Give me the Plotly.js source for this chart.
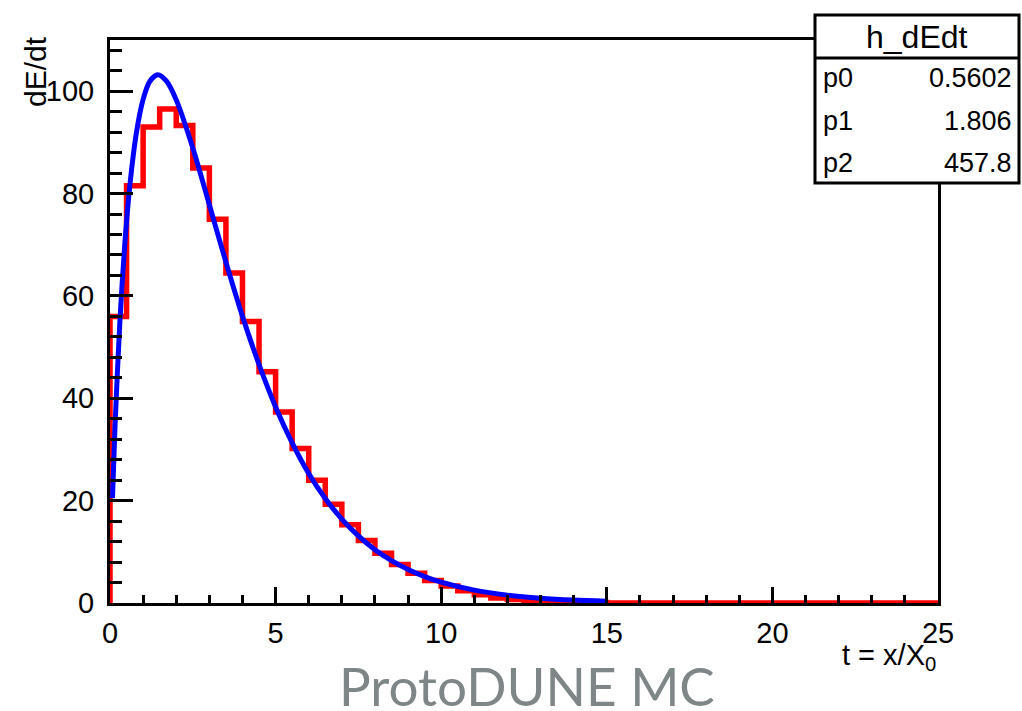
<!DOCTYPE html>
<html>
<head>
<meta charset="utf-8">
<script src="https://cdn.plot.ly/plotly-3.0.1.min.js"></script>
<style>
  html, body { margin: 0; padding: 0; background: #ffffff; }
  #chart { width: 1022px; height: 711px; }
</style>
</head>
<body>
<div id="chart"></div>
<script>
// Histogram h_dEdt: bin edges (t = x/X0) and contents
const binEdges = [0, 0.5, 1, 1.5, 2, 2.5, 3, 3.5, 4, 4.5, 5, 5.5, 6, 6.5, 7, 7.5, 8, 8.5, 9, 9.5,
  10, 10.5, 11, 11.5, 12, 12.5, 13, 13.5, 14, 14.5, 15, 15.5, 16, 16.5, 17, 17.5, 18, 18.5, 19, 19.5,
  20, 20.5, 21, 21.5, 22, 22.5, 23, 23.5, 24, 24.5, 25];
const binContents = [56, 81.5, 93, 96.5, 93.3, 85, 75, 64.5, 55, 45.2,
  37.3, 30.2, 24, 19.3, 15.3, 12.2, 9.7, 7.5, 5.8, 4.4,
  3.3, 2.4, 1.6, 1.0, 0.7, 0.45, 0.3, 0.2, 0.12, 0.08,
  0, 0, 0, 0, 0, 0, 0, 0, 0, 0,
  0, 0, 0, 0, 0, 0, 0, 0, 0, 0];

// Fit curve
const fitT = [0.075, 0.15, 0.3, 0.45, 0.6, 0.8, 1.0, 1.2, 1.44, 1.7, 2.0, 2.5, 3, 3.5, 4, 4.5, 5,
  5.5, 6, 6.5, 7, 7.5, 8, 8.5, 9, 9.5, 10, 11, 12, 13, 14, 15];
const fitVal = [20.5, 34.3, 55.2, 70.4, 81.6, 92.0, 98.4, 101.9, 103.2, 102.0, 98.3, 88.9, 77.8,
  66.6, 56.0, 46.6, 38.3, 31.3, 25.3, 20.4, 16.4, 13.1, 10.4, 8.27, 6.55, 5.17, 4.07, 2.51,
  1.54, 0.94, 0.57, 0.34];

// Stats box entries
const statNames = ["p0", "p1", "p2"];
const statValues = ["0.5602", "1.806", "457.8"];

const xTickVals = [0, 5, 10, 15, 20, 25];
const yTickVals = [0, 20, 40, 60, 80, 100];

// build the histogram outline (step line)
const histX = [binEdges[0]].concat(binEdges);
const histY = [0].concat(binContents, [binContents[binContents.length - 1]]);

const ff = '"Liberation Sans", Arial, Helvetica, sans-serif';

const traces = [
  {
    x: histX, y: histY, type: 'scatter', mode: 'lines',
    line: { color: '#ff0000', width: 5.5, shape: 'hv' },
    hoverinfo: 'skip', showlegend: false
  },
  {
    x: fitT, y: fitVal, type: 'scatter', mode: 'lines',
    line: { color: '#0000ff', width: 5, shape: 'spline', smoothing: 0.8 },
    hoverinfo: 'skip', showlegend: false
  }
];

// pixel helpers -> paper coordinates (plot area 110..938 x 40..603)
const L = 110, R = 938, T = 40, B = 603;
const px = v => (v - L) / (R - L);
const py = v => (B - v) / (B - T);

const annotations = [
  { text: 'dE/dt', xref: 'paper', yref: 'paper', x: px(36), y: py(72), textangle: -90,
    showarrow: false, xanchor: 'center', yanchor: 'middle', font: { family: ff, size: 30, color: '#000' } },
  { text: 't = x/X<sub>0</sub>', xref: 'paper', yref: 'paper', x: px(938), y: py(657),
    showarrow: false, xanchor: 'right', yanchor: 'middle', font: { family: ff, size: 29, color: '#000' } },
  { text: 'ProtoDUNE MC', xref: 'paper', yref: 'paper', x: px(527), y: py(685),
    showarrow: false, xanchor: 'center', yanchor: 'middle', font: { family: 'Lato, "Open Sans", sans-serif', size: 53, color: '#7f8687' } },
  { text: 'h_dEdt', xref: 'paper', yref: 'paper', x: px(917), y: py(37),
    showarrow: false, xanchor: 'center', yanchor: 'middle', font: { family: ff, size: 32, color: '#000' } }
];
const rowY = [78, 121, 163];
statNames.forEach((n, i) => {
  annotations.push({ text: n, xref: 'paper', yref: 'paper', x: px(821), y: py(rowY[i]),
    showarrow: false, xanchor: 'left', yanchor: 'middle', font: { family: ff, size: 27, color: '#000' } });
  annotations.push({ text: statValues[i], xref: 'paper', yref: 'paper', x: px(1014), y: py(rowY[i]),
    showarrow: false, xanchor: 'right', yanchor: 'middle', font: { family: ff, size: 27, color: '#000' } });
});

const shapes = [
  { type: 'rect', xref: 'paper', yref: 'paper', x0: px(815), x1: px(1019), y0: py(15), y1: py(183),
    line: { color: '#000', width: 3 }, fillcolor: '#ffffff', layer: 'above' },
  { type: 'line', xref: 'paper', yref: 'paper', x0: px(815), x1: px(1019), y0: py(58), y1: py(58),
    line: { color: '#000', width: 3 }, layer: 'above' }
];

const layout = {
  width: 1022, height: 711,
  margin: { l: L, r: 1022 - R, t: T, b: 711 - B, pad: 0 },
  paper_bgcolor: '#ffffff', plot_bgcolor: '#ffffff',
  showlegend: false,
  xaxis: {
    range: [0, 25], tickvals: xTickVals, ticktext: xTickVals.map(String),
    ticks: 'inside', ticklen: 16, tickwidth: 3, tickcolor: '#000',
    minor: { dtick: 1, ticks: 'inside', ticklen: 8, tickwidth: 3, tickcolor: '#000', showgrid: false },
    showline: true, linecolor: '#000', linewidth: 3, mirror: true,
    showgrid: false, zeroline: false,
    tickfont: { family: ff, size: 29, color: '#000' }, ticklabelstandoff: 2
  },
  yaxis: {
    range: [0, 110], tickvals: yTickVals, ticktext: yTickVals.map(String),
    ticks: 'inside', ticklen: 23, tickwidth: 3, tickcolor: '#000',
    minor: { dtick: 4, ticks: 'inside', ticklen: 12, tickwidth: 3, tickcolor: '#000', showgrid: false },
    showline: true, linecolor: '#000', linewidth: 3, mirror: true,
    showgrid: false, zeroline: false,
    tickfont: { family: ff, size: 29, color: '#000' }, ticklabelstandoff: 7
  },
  annotations: annotations,
  shapes: shapes
};

Plotly.newPlot('chart', traces, layout, { staticPlot: true, displayModeBar: false });
</script>
</body>
</html>
